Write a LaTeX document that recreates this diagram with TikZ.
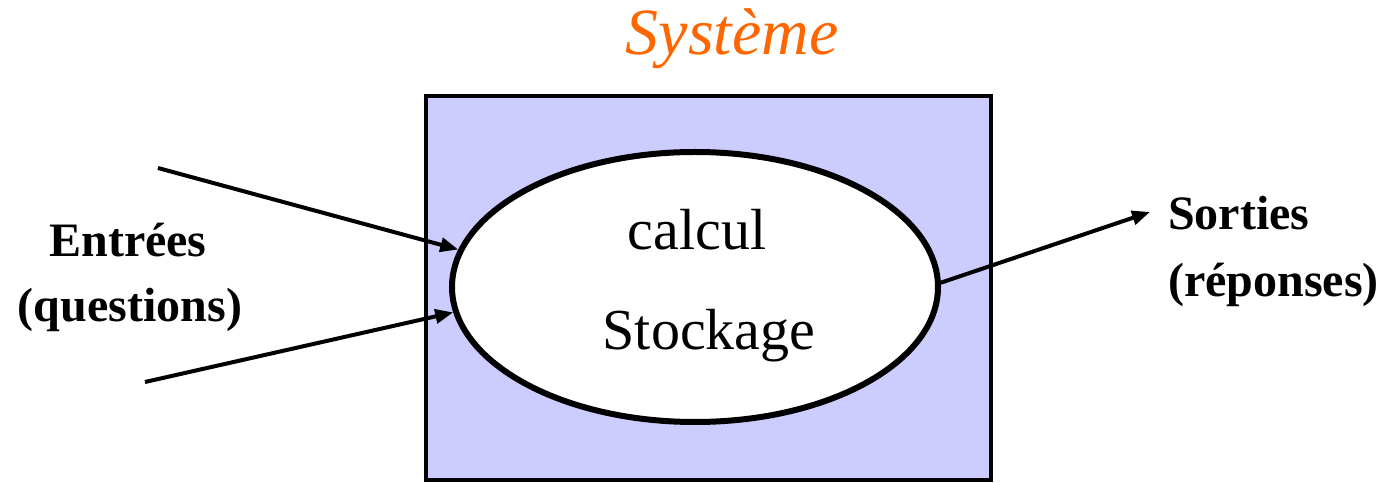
\documentclass[tikz,border=0pt]{standalone}
\usepackage{fontspec}
\newfontfamily\tnr{Liberation Serif}
\usetikzlibrary{shapes.geometric,arrows.meta}
\definecolor{sysorange}{RGB}{255,102,0}
\definecolor{boxfill}{RGB}{204,204,255}
\tikzset{
  conn/.style={line width=4pt,-{Triangle[length=18pt,width=14pt]}},
  lbl/.style={font=\tnr\bfseries\fontsize{48}{56}\selectfont,inner sep=0pt,anchor=base},
  inner/.style={font=\tnr\fontsize{58}{66}\selectfont,inner sep=0pt,anchor=base}
}
\begin{document}
\begin{tikzpicture}[x=1pt,y=1pt]
\useasboundingbox (0,0) rectangle (1384,482);
\node[font=\tnr\itshape\fontsize{66}{72}\selectfont,text=sysorange,inner sep=0pt,anchor=base] (sys) at (732,427) {Système};
\draw[line width=3.5pt,fill=boxfill] (426,2) rectangle (991,386);
\node[ellipse,draw,line width=6pt,fill=white,minimum width=486pt,minimum height=270pt,inner sep=0pt] (e) at (695,195) {};
\node[inner] (calc) at (697,232) {calcul};
\node[inner] (stock) at (709,132) {Stockage};
\node[lbl] (ent) at (128,225) {Entrées};
\node[lbl] (quest) at (130,160) {(questions)};
\node[lbl,anchor=base west] (sort) at (1168,252) {Sorties};
\node[lbl,anchor=base west] (rep) at (1168,185) {(réponses)};
\coordinate (in1) at (158,314);
\coordinate (in2) at (145,100);
\coordinate (out) at (1150,270);
\draw[conn] (in1) -- (e.171);
\draw[conn] (in2) -- (e.186);
\draw[conn] (e.1) -- (out);
\end{tikzpicture}
\end{document}
